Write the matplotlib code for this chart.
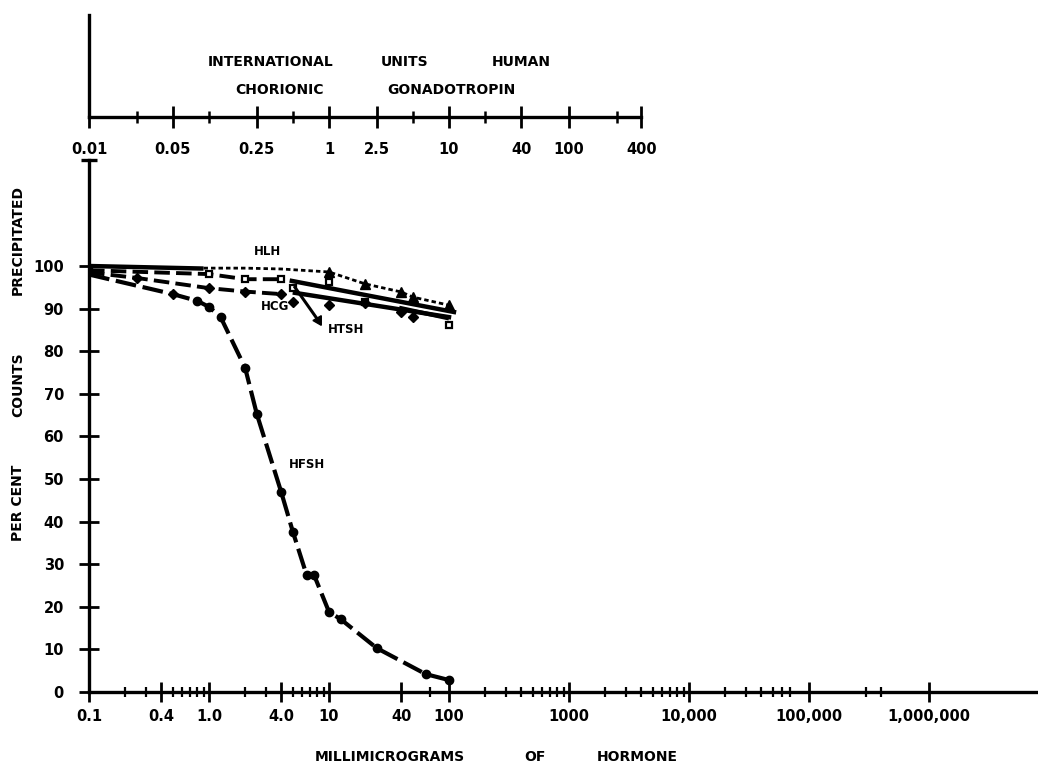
import matplotlib.pyplot as plt
from matplotlib.ticker import FixedLocator, FixedFormatter, NullFormatter

plt.rcParams['font.family'] = ['DejaVu Sans']
plt.rcParams['font.weight'] = 'bold'

# bottom scale, millimicrograms of hormone
mmg_ticks = [0.1, 0.4, 1.0, 4.0, 10, 40, 100, 1000, 1e4, 1e5, 1e6]
mmg_labels = ['0.1', '0.4', '1.0', '4.0', '10', '40', '100', '1000',
              '10,000', '100,000', '1,000,000']
mmg_minor = [0.2, 0.3, 0.5, 0.6, 0.7, 0.8, 0.9,
             2, 3, 5, 6, 7, 8, 9,
             70,
             200, 300, 400, 500, 600, 700, 800, 900,
             2000, 3000, 4000, 5000, 6000, 7000, 8000, 9000,
             2e4, 3e4, 4e4, 5e4, 6e4, 7e4,
             3e5, 4e5]
pct_ticks = [0, 10, 20, 30, 40, 50, 60, 70, 80, 90, 100]

# top scale, international units HCG
iu_ticks = [0.01, 0.05, 0.25, 1, 2.5, 10, 40, 100, 400]
iu_labels = ['0.01', '0.05', '0.25', '1', '2.5', '10', '40', '100', '400']
iu_minor = [0.025, 0.1, 0.5, 5, 20, 250]

# curves (x in millimicrograms, y in per cent)
hlh_x = [0.9, 2, 4, 10, 20, 40, 50, 100]
hlh_y = [99.5, 99.5, 99.3, 98.6, 95.8, 93.9, 92.7, 90.8]

hcg_sq_x = [0.1, 1, 2, 4]
hcg_sq_y = [99.0, 98.1, 96.9, 96.9]
hcg_dm_x = [0.1, 0.25, 1, 2, 4]
hcg_dm_y = [98.5, 97.2, 94.8, 94.0, 93.4]

sq_late_x = [5, 10, 20, 100]
sq_late_y = [94.8, 96.2, 91.5, 86.2]
dm_late_x = [5, 10, 20, 40, 50]
dm_late_y = [91.5, 90.8, 91.3, 89.2, 88.0]

fit_top_x = [0.1, 0.9]
fit_top_y = [100, 99.4]
fit_a_x = [4.9, 110]
fit_a_y = [96.5, 89.2]
fit_b_x = [5.2, 100]
fit_b_y = [93.7, 88.0]
fit_c_x = [40, 96]
fit_c_y = [90.1, 87.8]

htsh_x = [5.2, 8.1]
htsh_y = [95.0, 87.3]

hfsh_x = [0.1, 0.5, 0.8, 1.0, 1.25, 2, 2.5, 4, 5, 6.5, 7.5, 10, 12.5, 25, 64, 100]
hfsh_y = [98.0, 93.4, 91.8, 90.4, 88.0, 76.1, 65.3, 46.9, 37.6, 27.5, 27.5,
          18.8, 17.1, 10.3, 4.2, 2.8]

W, H = 1038, 769
fig = plt.figure(figsize=(W / 100, H / 100), dpi=100)
ax = fig.add_axes([89 / W, 77 / H, 949 / W, 532 / H])

k = 'black'
ax.plot(fit_top_x, fit_top_y, color=k, lw=3.2, solid_capstyle='butt')
ax.plot(fit_a_x, fit_a_y, color=k, lw=3.2)
ax.plot(fit_b_x, fit_b_y, color=k, lw=3.2)
ax.plot(fit_c_x, fit_c_y, color=k, lw=3.0)

ax.plot(hlh_x, hlh_y, color=k, lw=2.0, dashes=(1.6, 1.1),
        marker='^', ms=6.5, markevery=[3, 4, 5, 6, 7])
ax.plot(hcg_sq_x, hcg_sq_y, color=k, lw=2.8, dashes=(4, 1.6),
        marker='s', ms=5, mfc='white', mec=k, mew=1.6)
ax.plot(hcg_dm_x, hcg_dm_y, color=k, lw=2.8, dashes=(4, 1.6),
        marker='D', ms=5, markevery=[1, 2, 3, 4])
ax.plot(sq_late_x, sq_late_y, ls='none', marker='s', ms=5,
        mfc='white', mec=k, mew=1.6)
ax.plot(dm_late_x, dm_late_y, ls='none', marker='D', ms=5, color=k)
ax.plot(htsh_x, htsh_y, color=k, lw=2.2)
ax.plot(htsh_x[-1:], htsh_y[-1:], ls='none', marker=(3, 0, -30), ms=8, color=k)

ax.plot(hfsh_x, hfsh_y, color=k, lw=3.0, dashes=(5, 1.6),
        marker='o', ms=6, markevery=list(range(2, len(hfsh_x))))
ax.plot(hfsh_x[1:2], hfsh_y[1:2], ls='none', marker='D', ms=5, color=k)

lab = dict(fontsize=8.5, fontweight='bold', ha='center', va='center')
ax.text(3.1, 103.3, 'HLH', **lab)
ax.text(3.55, 90.4, 'HCG', **lab)
ax.text(13.9, 85.0, 'HTSH', **lab)
ax.text(6.56, 53.3, 'HFSH', **lab)

ax.set_xscale('log')
ax.set_xlim(0.1, 0.1 * 10 ** (949 / 120))
ax.set_ylim(0, 532 / 4.26)
ax.xaxis.set_major_locator(FixedLocator(mmg_ticks))
ax.xaxis.set_major_formatter(FixedFormatter(mmg_labels))
ax.xaxis.set_minor_locator(FixedLocator(mmg_minor))
ax.xaxis.set_minor_formatter(NullFormatter())
ax.set_yticks(pct_ticks)
ax.set_yticklabels([str(v) for v in pct_ticks])
for s in ['top', 'right']:
    ax.spines[s].set_visible(False)
for s in ['left', 'bottom']:
    ax.spines[s].set_linewidth(2.4)
ax.tick_params(axis='x', which='major', direction='inout', length=14, width=2,
               pad=5, labelsize=10.5)
ax.tick_params(axis='x', which='minor', direction='inout', length=7, width=1.6)
ax.tick_params(axis='y', which='major', direction='inout', length=14, width=2,
               pad=11, labelsize=10.5)
ax.plot([0], [1], marker='_', ms=12, mew=2.4, color=k,
        transform=ax.transAxes, clip_on=False)

# upper scale in international units
ax2 = fig.add_axes([89 / W, (H - 117) / H, 949 / W, 102 / H])
ax2.set_xscale('log')
ax2.set_xlim(0.01, 0.01 * 10 ** (949 / 120))
ax2.set_ylim(0, 1)
ax2.patch.set_visible(False)
for s in ['top', 'right']:
    ax2.spines[s].set_visible(False)
ax2.spines['bottom'].set_bounds(0.01, 400)
for s in ['left', 'bottom']:
    ax2.spines[s].set_linewidth(2.4)
ax2.set_yticks([])
ax2.xaxis.set_major_locator(FixedLocator(iu_ticks))
ax2.xaxis.set_major_formatter(FixedFormatter(iu_labels))
ax2.xaxis.set_minor_locator(FixedLocator(iu_minor))
ax2.xaxis.set_minor_formatter(NullFormatter())
ax2.tick_params(axis='x', which='major', direction='inout', length=16, width=2,
                pad=10, labelsize=10.5)
ax2.tick_params(axis='x', which='minor', direction='inout', length=9, width=1.8)

txt = dict(fontsize=10, fontweight='bold', ha='center', va='center')
fig.text(271 / W, 1 - 62 / H, 'INTERNATIONAL', **txt)
fig.text(405 / W, 1 - 62 / H, 'UNITS', **txt)
fig.text(521 / W, 1 - 62 / H, 'HUMAN', **txt)
fig.text(279 / W, 1 - 90 / H, 'CHORIONIC', **txt)
fig.text(451 / W, 1 - 90 / H, 'GONADOTROPIN', **txt)

fig.text(390 / W, 1 - 757 / H, 'MILLIMICROGRAMS', **txt)
fig.text(535 / W, 1 - 757 / H, 'OF', **txt)
fig.text(637 / W, 1 - 757 / H, 'HORMONE', **txt)

fig.text(18 / W, 1 - 503 / H, 'PER CENT', rotation=90, **txt)
fig.text(18 / W, 1 - 385 / H, 'COUNTS', rotation=90, **txt)
fig.text(18 / W, 1 - 240 / H, 'PRECIPITATED', rotation=90, **txt)

fig.savefig('out.png', dpi=100)
